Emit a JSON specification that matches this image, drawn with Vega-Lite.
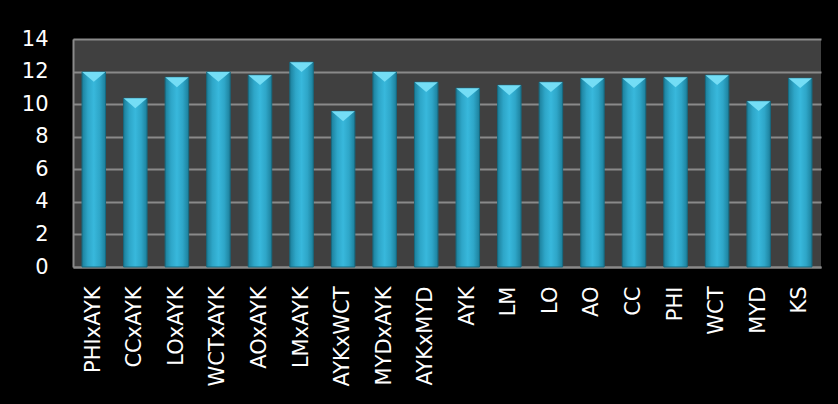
{
  "$schema": "https://vega.github.io/schema/vega-lite/v6.json",
  "width": 748,
  "height": 228,
  "autosize": "none",
  "padding": {"left": 73, "top": 39, "right": 17, "bottom": 137},
  "background": "black",
  "config": {"view": {"fill": "#404040", "stroke": null}},
  "data": {
    "values": [
      {"cat": "PHIxAYK", "value": 11.98},
      {"cat": "CCxAYK", "value": 10.36},
      {"cat": "LOxAYK", "value": 11.65},
      {"cat": "WCTxAYK", "value": 11.98},
      {"cat": "AOxAYK", "value": 11.78},
      {"cat": "LMxAYK", "value": 12.58},
      {"cat": "AYKxWCT", "value": 9.56},
      {"cat": "MYDxAYK", "value": 11.98},
      {"cat": "AYKxMYD", "value": 11.35},
      {"cat": "AYK", "value": 10.98},
      {"cat": "LM", "value": 11.16},
      {"cat": "LO", "value": 11.35},
      {"cat": "AO", "value": 11.59},
      {"cat": "CC", "value": 11.59},
      {"cat": "PHI", "value": 11.65},
      {"cat": "WCT", "value": 11.78},
      {"cat": "MYD", "value": 10.18},
      {"cat": "KS", "value": 11.59}
    ]
  },
  "encoding": {
    "x": {
      "field": "cat",
      "type": "nominal",
      "sort": null,
      "scale": {"paddingInner": 0.435, "paddingOuter": 0.2175},
      "axis": {
        "title": null,
        "labelAngle": -90,
        "labelAlign": "right",
        "labelBaseline": "middle",
        "labelColor": "white",
        "labelFont": "DejaVu Sans",
        "labelFontSize": 21,
        "labelPadding": 19,
        "labelLimit": 200,
        "ticks": false,
        "domain": true,
        "domainColor": "#8a8a8a",
        "domainWidth": 2,
        "grid": false
      }
    },
    "y": {
      "field": "value",
      "type": "quantitative",
      "scale": {"domain": [0, 14]},
      "axis": {
        "title": null,
        "values": [0, 2, 4, 6, 8, 10, 12, 14],
        "labelColor": "white",
        "labelFont": "DejaVu Sans",
        "labelFontSize": 21,
        "labelPadding": 25,
        "ticks": false,
        "domain": true,
        "domainColor": "#8a8a8a",
        "domainWidth": 2,
        "grid": true,
        "gridColor": "#8a8a8a",
        "gridWidth": 2,
        "gridOpacity": 1
      }
    }
  },
  "layer": [
    {
      "mark": {
        "type": "bar",
        "stroke": "#176a80",
        "strokeWidth": 1,
        "color": {
          "gradient": "linear",
          "x1": 0, "x2": 1, "y1": 0, "y2": 0,
          "stops": [
            {"offset": 0, "color": "#1c7f9b"},
            {"offset": 0.25, "color": "#2ea6c8"},
            {"offset": 0.5, "color": "#38b8dc"},
            {"offset": 0.75, "color": "#2ea6c8"},
            {"offset": 1, "color": "#1c7f9b"}
          ]
        }
      }
    },
    {
      "mark": {
        "type": "point",
        "shape": "M-1,0L1,0L0,0.85Z",
        "size": 540,
        "filled": true,
        "color": "#74ddf5",
        "opacity": 1,
        "strokeWidth": 0
      }
    }
  ]
}
